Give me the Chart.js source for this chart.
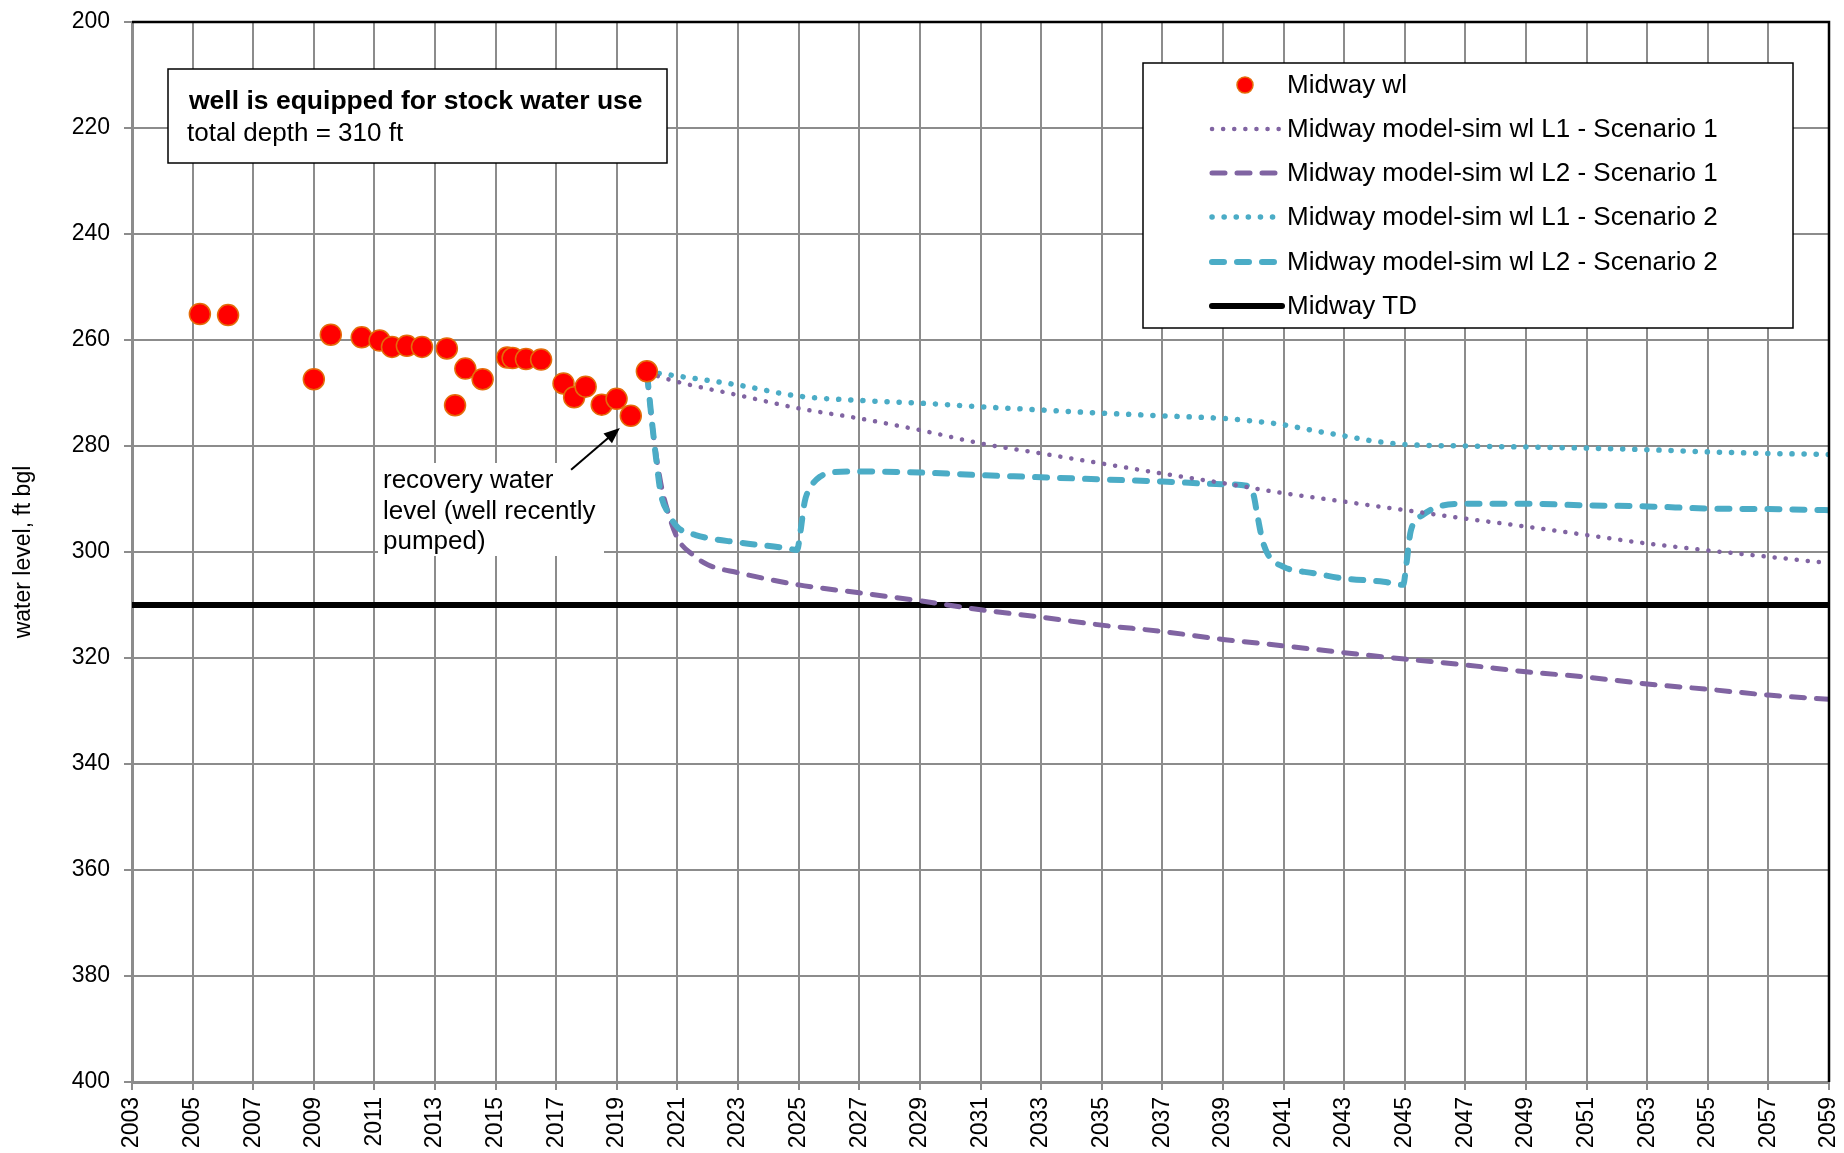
<!DOCTYPE html>
<html>
<head>
<meta charset="utf-8">
<script src="https://cdn.jsdelivr.net/npm/chart.js@4.4.1/dist/chart.umd.min.js"></script>
<style>
  html, body { margin: 0; padding: 0; background: #fff; }
</style>
</head>
<body>
<canvas id="wlChart" width="1844" height="1153"></canvas>
<script>
// measured water levels (ft below ground)
const obsYears  = [2005.24, 2006.17, 2009.0, 2009.56, 2010.58, 2011.17, 2011.58, 2012.07, 2012.57, 2013.39, 2013.66, 2014.0, 2014.57,
                   2015.38, 2015.56, 2016.0, 2016.5, 2017.24, 2017.59, 2017.97, 2018.5, 2018.99, 2019.46, 2019.99];
const obsLevels = [255.1, 255.3, 267.4, 259.0, 259.5, 260.1, 261.3, 261.1, 261.3, 261.6, 272.3, 265.4, 267.4,
                   263.3, 263.4, 263.6, 263.7, 268.2, 270.8, 268.8, 272.2, 271.1, 274.3, 265.9];

// model-simulated levels, layer 1 / layer 2, scenario 1 and 2
const s1L1Years  = [2020, 2021, 2023, 2025, 2027, 2029, 2031, 2033, 2035, 2037, 2039, 2041, 2043, 2045, 2047, 2049, 2051, 2053, 2055, 2057, 2059];
const s1L1Levels = [266.2, 267.9, 270.4, 272.9, 274.8, 277.0, 279.5, 281.4, 283.3, 285.2, 287.0, 288.9, 290.5, 292.1, 293.7, 295.2, 296.8, 298.4, 299.7, 300.9, 302.1];

const s1L2Years  = [2020, 2020.2, 2020.45, 2020.7, 2021, 2021.5, 2022, 2023, 2025, 2027, 2029, 2031, 2033, 2035, 2037, 2039, 2041, 2043, 2045, 2047, 2049, 2051, 2053, 2055, 2057, 2059];
const s1L2Levels = [266.6, 277.6, 287.0, 292.7, 297.4, 300.5, 302.4, 303.9, 306.2, 307.7, 309.2, 310.9, 312.3, 313.8, 315.0, 316.5, 317.7, 319.0, 320.2, 321.3, 322.6, 323.6, 324.9, 325.9, 327.0, 327.8];

const s2L1Years  = [2020, 2021, 2023, 2025, 2027, 2029, 2031, 2033, 2035, 2037, 2039, 2040, 2041, 2042, 2043, 2044, 2045, 2047, 2049, 2051, 2053, 2055, 2057, 2059];
const s2L1Levels = [266.0, 266.8, 268.5, 270.6, 271.4, 271.9, 272.6, 273.2, 273.8, 274.3, 274.8, 275.3, 276.0, 277.1, 278.1, 279.1, 279.7, 280.0, 280.2, 280.4, 280.7, 281.1, 281.4, 281.6];

const s2L2Years  = [2020, 2020.15, 2020.3, 2020.45, 2020.7, 2021, 2021.6, 2023, 2024.5, 2024.95, 2025.05, 2025.2, 2025.4, 2025.7, 2026.2, 2027,
                    2029, 2031, 2033, 2035, 2037, 2039, 2039.8, 2040.0, 2040.15, 2040.3, 2040.5, 2041, 2042, 2043, 2044.3, 2044.95,
                    2045.05, 2045.2, 2045.6, 2046.2, 2047, 2049, 2051, 2053, 2055, 2057, 2059];
const s2L2Levels = [266.6, 275.0, 282.6, 289.0, 292.7, 295.3, 296.8, 298.2, 299.2, 299.6, 296.5, 290.5, 287.7, 285.8, 284.9, 284.8,
                    285.0, 285.5, 285.9, 286.3, 286.7, 287.2, 287.5, 289.0, 293.5, 297.7, 300.6, 302.8, 304.0, 305.0, 305.6, 306.2,
                    302.5, 296.0, 293.0, 291.3, 290.9, 290.9, 291.2, 291.4, 291.8, 291.9, 292.1];

// total depth of well
const tdYears  = [2003, 2059];
const tdLevels = [310, 310];

const seriesNames = ['Midway wl', 'Midway model-sim wl L1 - Scenario 1', 'Midway model-sim wl L2 - Scenario 1',
                     'Midway model-sim wl L1 - Scenario 2', 'Midway model-sim wl L2 - Scenario 2', 'Midway TD'];

const PURPLE = '#8064A2', CYAN = '#4BACC6', GRID = '#8c8c8c';
const FONT = "'Liberation Sans', Arial, sans-serif";
Chart.defaults.font.family = FONT;
Chart.defaults.color = '#000';

const pts = (xs, ys) => xs.map((x, i) => ({ x: x, y: ys[i] }));

const lineStyles = [
  null,
  { color: PURPLE, width: 4.5, dash: [0.1, 11] },
  { color: PURPLE, width: 5, dash: [13, 12] },
  { color: CYAN, width: 5.5, dash: [0.1, 12] },
  { color: CYAN, width: 6, dash: [12, 13] },
  { color: '#000', width: 6, dash: [] }
];

function lineSet(i, xs, ys, smooth) {
  const st = lineStyles[i];
  return {
    label: seriesNames[i],
    data: pts(xs, ys),
    showLine: true,
    pointRadius: 0,
    pointHoverRadius: 0,
    borderColor: st.color,
    borderWidth: st.width,
    borderDash: st.dash,
    borderCapStyle: 'round',
    borderJoinStyle: 'round',
    cubicInterpolationMode: smooth ? 'monotone' : 'default',
    fill: false
  };
}

// legend, note boxes, arrow and frame drawn on top
const extras = {
  id: 'extras',
  afterDatasetsDraw(chart) {
    const ctx = chart.ctx, a = chart.chartArea;
    const X = v => a.left + v, Y = v => a.top + v;
    ctx.save();

    // black frame on top and right
    ctx.strokeStyle = '#000';
    ctx.lineWidth = 2.5;
    ctx.setLineDash([]);
    ctx.beginPath();
    ctx.moveTo(a.left, a.top);
    ctx.lineTo(a.right, a.top);
    ctx.lineTo(a.right, a.bottom);
    ctx.stroke();

    // note box
    ctx.fillStyle = '#fff';
    ctx.fillRect(X(36), Y(47), 499, 94);
    ctx.strokeStyle = '#000';
    ctx.lineWidth = 1.5;
    ctx.strokeRect(X(36), Y(47), 499, 94);
    ctx.fillStyle = '#000';
    ctx.textBaseline = 'alphabetic';
    ctx.textAlign = 'left';
    ctx.font = 'bold 26.5px ' + FONT;
    ctx.fillText('well is equipped for stock water use', X(57), Y(87));
    ctx.font = '26px ' + FONT;
    ctx.fillText('total depth = 310 ft', X(55), Y(119));

    // recovery note with arrow
    ctx.fillStyle = '#fff';
    ctx.fillRect(X(246), Y(441), 226, 93);
    ctx.fillStyle = '#000';
    ctx.font = '26px ' + FONT;
    ctx.fillText('recovery water', X(251), Y(466));
    ctx.fillText('level (well recently', X(251), Y(497));
    ctx.fillText('pumped)', X(251), Y(527));

    const xs = chart.scales.x, ys = chart.scales.y;
    const x0 = xs.getPixelForValue(2017.49), y0 = ys.getPixelForValue(284.5);
    const x1 = xs.getPixelForValue(2019.1), y1 = ys.getPixelForValue(276.6);
    const ang = Math.atan2(y1 - y0, x1 - x0);
    ctx.strokeStyle = '#000';
    ctx.lineWidth = 2;
    ctx.beginPath();
    ctx.moveTo(x0, y0);
    ctx.lineTo(x1 - 12 * Math.cos(ang), y1 - 12 * Math.sin(ang));
    ctx.stroke();
    ctx.beginPath();
    ctx.moveTo(x1, y1);
    ctx.lineTo(x1 - 16 * Math.cos(ang) + 6.5 * Math.sin(ang), y1 - 16 * Math.sin(ang) - 6.5 * Math.cos(ang));
    ctx.lineTo(x1 - 16 * Math.cos(ang) - 6.5 * Math.sin(ang), y1 - 16 * Math.sin(ang) + 6.5 * Math.cos(ang));
    ctx.closePath();
    ctx.fill();

    // legend
    const lx = X(1011), ly = Y(41), lw = 650, lh = 265;
    ctx.fillStyle = '#fff';
    ctx.fillRect(lx, ly, lw, lh);
    ctx.strokeStyle = '#000';
    ctx.lineWidth = 1.5;
    ctx.strokeRect(lx, ly, lw, lh);
    const rows = [63, 107, 151, 195, 240, 284];
    ctx.font = '26px ' + FONT;
    ctx.textBaseline = 'middle';
    seriesNames.forEach((name, i) => {
      const ry = Y(rows[i]);
      if (i === 0) {
        ctx.beginPath();
        ctx.arc(X(1113), ry, 8, 0, Math.PI * 2);
        ctx.fillStyle = '#FF0000';
        ctx.fill();
        ctx.strokeStyle = '#E46C0A';
        ctx.lineWidth = 1.5;
        ctx.stroke();
      } else {
        const st = lineStyles[i];
        ctx.strokeStyle = st.color;
        ctx.lineWidth = st.width;
        ctx.lineCap = 'round';
        ctx.setLineDash(st.dash);
        ctx.beginPath();
        ctx.moveTo(X(1080), ry);
        ctx.lineTo(X(1150), ry);
        ctx.stroke();
        ctx.setLineDash([]);
        ctx.lineCap = 'butt';
      }
      ctx.fillStyle = '#000';
      ctx.fillText(name, X(1155), ry + 1);
    });
    ctx.restore();
  }
};

new Chart(document.getElementById('wlChart'), {
  type: 'scatter',
  data: {
    datasets: [
      {
        label: seriesNames[0],
        data: pts(obsYears, obsLevels),
        showLine: false,
        pointRadius: 10.5,
        pointHoverRadius: 10.5,
        pointBackgroundColor: '#FF0000',
        pointBorderColor: '#E46C0A',
        pointBorderWidth: 1.5
      },
      lineSet(1, s1L1Years, s1L1Levels, true),
      lineSet(3, s2L1Years, s2L1Levels, true),
      lineSet(4, s2L2Years, s2L2Levels, true),
      lineSet(2, s1L2Years, s1L2Levels, true),
      lineSet(5, tdYears, tdLevels, false)
    ]
  },
  options: {
    responsive: false,
    animation: false,
    layout: { padding: { top: 22, right: 15, left: 0, bottom: 0 } },
    plugins: {
      legend: { display: false },
      tooltip: { enabled: false }
    },
    scales: {
      x: {
        type: 'linear',
        min: 2003,
        max: 2059,
        afterFit: s => { s.height = 71; s.paddingLeft = 0; s.paddingRight = 0; },
        ticks: {
          stepSize: 2,
          autoSkip: false,
          minRotation: 90,
          maxRotation: 90,
          padding: 7,
          font: { size: 23 },
          color: '#000',
          callback: v => String(v)
        },
        grid: { color: GRID, lineWidth: 2, tickLength: 8 },
        border: { color: GRID, width: 3 }
      },
      y: {
        type: 'linear',
        reverse: true,
        min: 200,
        max: 400,
        afterFit: s => { s.width = 132; s.paddingTop = 0; s.paddingBottom = 0; },
        ticks: {
          stepSize: 20,
          padding: 14,
          font: { size: 23 },
          color: '#000'
        },
        title: {
          display: true,
          text: 'water level, ft bgl',
          font: { size: 23 },
          color: '#000',
          padding: { top: 10, bottom: 0 }
        },
        grid: { color: GRID, lineWidth: 2, tickLength: 8 },
        border: { color: GRID, width: 3 }
      }
    }
  },
  plugins: [extras]
});
</script>
</body>
</html>
